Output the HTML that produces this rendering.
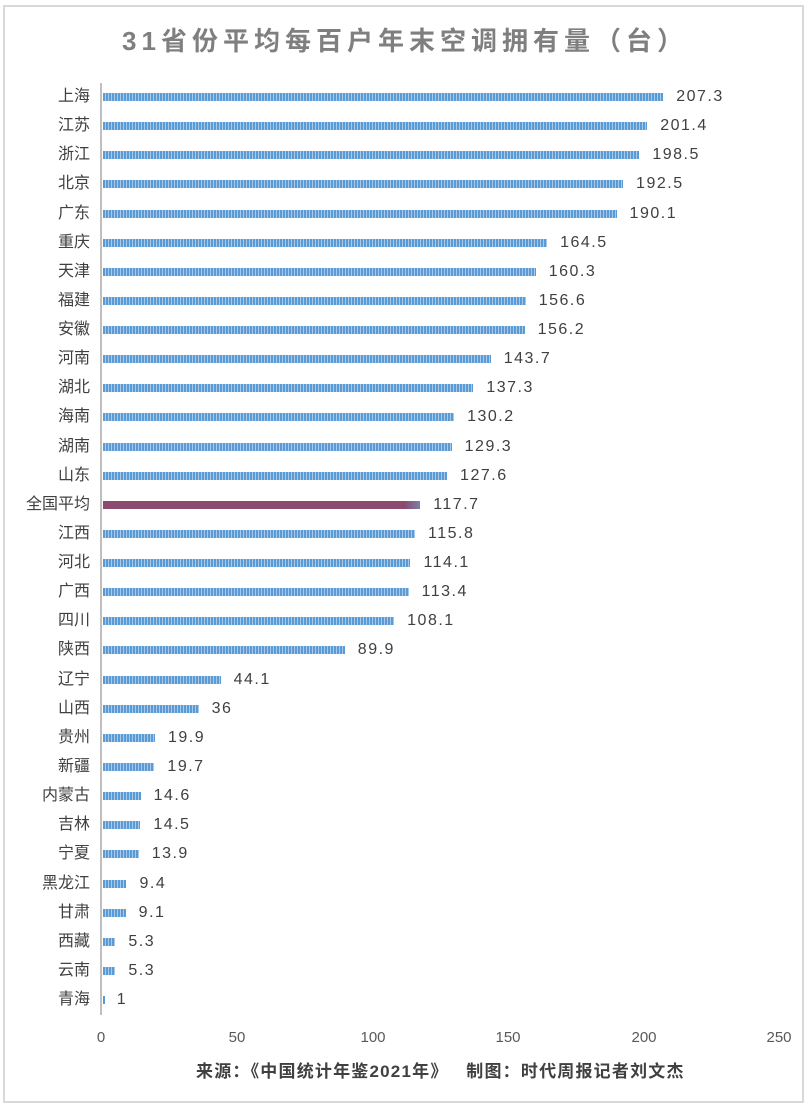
<!DOCTYPE html>
<html><head><meta charset="utf-8"><style>
body{margin:0;width:810px;height:1110px;background:#fff;position:relative;font-family:"Liberation Sans","Noto Sans CJK SC",sans-serif;overflow:hidden}
.frame{position:absolute;left:3px;top:5px;width:801px;height:1098px;border:2px solid #d9d9d9;box-sizing:border-box}
.title{position:absolute;left:0;width:810px;top:21px;text-align:center;font-size:26px;font-weight:bold;color:#7f7f7f;letter-spacing:5px}
.axis{position:absolute;left:100px;top:83px;width:2px;height:932px;background:#bfbfbf}
.lab{position:absolute;right:720px;font-size:16px;color:#404040;white-space:nowrap;line-height:20px}
.bar{position:absolute;left:103px;height:8px;background:repeating-linear-gradient(90deg,#5b9bd5 0 2px,#a9c9ea 2px 3px)}
.avg{background:linear-gradient(90deg,#8b4a6e 0,#8b4a6e 95%,#7a80a8 100%)}
.val{position:absolute;font-size:16px;color:#404040;white-space:nowrap;line-height:20px;letter-spacing:1.5px}
.tick{position:absolute;top:1029px;font-size:15px;color:#595959;transform:translateX(-50%)}
.src{position:absolute;left:196px;top:1057px;font-size:17px;font-weight:bold;color:#404040;white-space:nowrap;letter-spacing:1.2px}
</style></head><body>
<div class="frame"></div>
<div class="title">31省份平均每百户年末空调拥有量（台）</div>
<div class="axis"></div>
<div id="c"></div>
<div class="tick" style="left:101px">0</div>
<div class="tick" style="left:237px">50</div>
<div class="tick" style="left:373px">100</div>
<div class="tick" style="left:508px">150</div>
<div class="tick" style="left:644px">200</div>
<div class="tick" style="left:779px">250</div>
<div class="src">来源：《中国统计年鉴2021年》&nbsp;&nbsp;&nbsp;制图：时代周报记者刘文杰</div>
<script>
var d=[["上海",207.3,"207.3"],["江苏",201.4,"201.4"],["浙江",198.5,"198.5"],["北京",192.5,"192.5"],["广东",190.1,"190.1"],["重庆",164.5,"164.5"],["天津",160.3,"160.3"],["福建",156.6,"156.6"],["安徽",156.2,"156.2"],["河南",143.7,"143.7"],["湖北",137.3,"137.3"],["海南",130.2,"130.2"],["湖南",129.3,"129.3"],["山东",127.6,"127.6"],["全国平均",117.7,"117.7"],["江西",115.8,"115.8"],["河北",114.1,"114.1"],["广西",113.4,"113.4"],["四川",108.1,"108.1"],["陕西",89.9,"89.9"],["辽宁",44.1,"44.1"],["山西",36,"36"],["贵州",19.9,"19.9"],["新疆",19.7,"19.7"],["内蒙古",14.6,"14.6"],["吉林",14.5,"14.5"],["宁夏",13.9,"13.9"],["黑龙江",9.4,"9.4"],["甘肃",9.1,"9.1"],["西藏",5.3,"5.3"],["云南",5.3,"5.3"],["青海",1,"1"]];
var h="";
for(var i=0;i<d.length;i++){
 var y=97+i*29.13, w=d[i][1]*2.712-2;
 h+='<div class="lab" style="top:'+(y-10)+'px">'+d[i][0]+'</div>';
 h+='<div class="bar'+(d[i][0]=="全国平均"?' avg':'')+'" style="top:'+(y-4)+'px;width:'+Math.max(w,2)+'px"></div>';
 h+='<div class="val" style="top:'+(y-10)+'px;left:'+(101+d[i][1]*2.712+13)+'px">'+d[i][2]+'</div>';
}
document.getElementById("c").innerHTML=h;
</script>
</body></html>
